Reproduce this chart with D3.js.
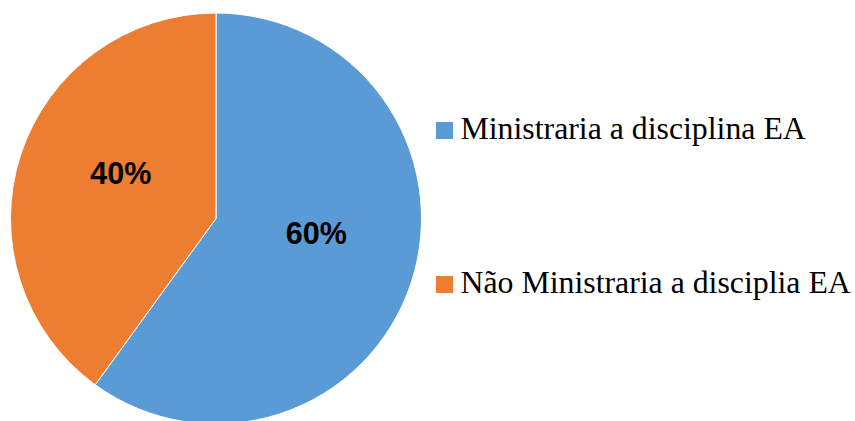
<!DOCTYPE html>
<html>
<head>
<meta charset="utf-8">
<script src="https://cdn.jsdelivr.net/npm/d3@7"></script>
<style>
  html, body { margin: 0; padding: 0; background: #fff; }
  svg { display: block; }
</style>
</head>
<body>
<svg id="chart" width="855" height="421"></svg>
<script>
// Survey answers: share of respondents who would teach the EA subject
const categories = ["Ministraria a disciplina EA", "Não Ministraria a disciplia EA"];
const shares = [60, 40];
const colors = ["#5B9BD5", "#ED7D31"];

const svg = d3.select("#chart");
const cx = 216, cy = 218.5, radius = 205.5;

const pie = d3.pie().sort(null).value(d => d.value);
const arcs = pie(categories.map((c, i) => ({ name: c, value: shares[i], color: colors[i] })));

const arc = d3.arc().innerRadius(0).outerRadius(radius);
const labelR = radius * 0.5;
const labelArc = d3.arc().innerRadius(labelR).outerRadius(labelR);

const g = svg.append("g").attr("transform", `translate(${cx},${cy})`);

g.selectAll("path.slice")
  .data(arcs)
  .join("path")
  .attr("class", "slice")
  .attr("d", arc)
  .attr("fill", d => d.data.color)
  .attr("stroke", "#fff")
  .attr("stroke-width", 1);

g.selectAll("text.pct")
  .data(arcs)
  .join("text")
  .attr("class", "pct")
  .attr("x", d => labelArc.centroid(d)[0] + 2.6)
  .attr("y", d => labelArc.centroid(d)[1] * 0.95 - 4.2)
  .attr("text-anchor", "middle")
  .attr("font-family", "'Liberation Sans', Arial, sans-serif")
  .attr("font-weight", "bold")
  .attr("font-size", 30.5)
  .attr("fill", "#000")
  .text(d => d.data.value + "%");

// Legend on the right
const legendY = d3.scalePoint().domain(categories).range([130.5, 284.5]);
const legend = svg.append("g").attr("transform", "translate(436,0)");
const items = legend.selectAll("g.item")
  .data(arcs)
  .join("g")
  .attr("class", "item")
  .attr("transform", d => `translate(0,${legendY(d.data.name)})`);

items.append("rect")
  .attr("x", 0).attr("y", -8.5)
  .attr("width", 17).attr("height", 17)
  .attr("fill", d => d.data.color);

items.append("text")
  .attr("x", 24.5)
  .attr("y", 8.8)
  .attr("font-family", "'Liberation Serif', 'Times New Roman', serif")
  .attr("font-size", 31.8)
  .attr("fill", "#000")
  .text(d => d.data.name);
</script>
</body>
</html>
